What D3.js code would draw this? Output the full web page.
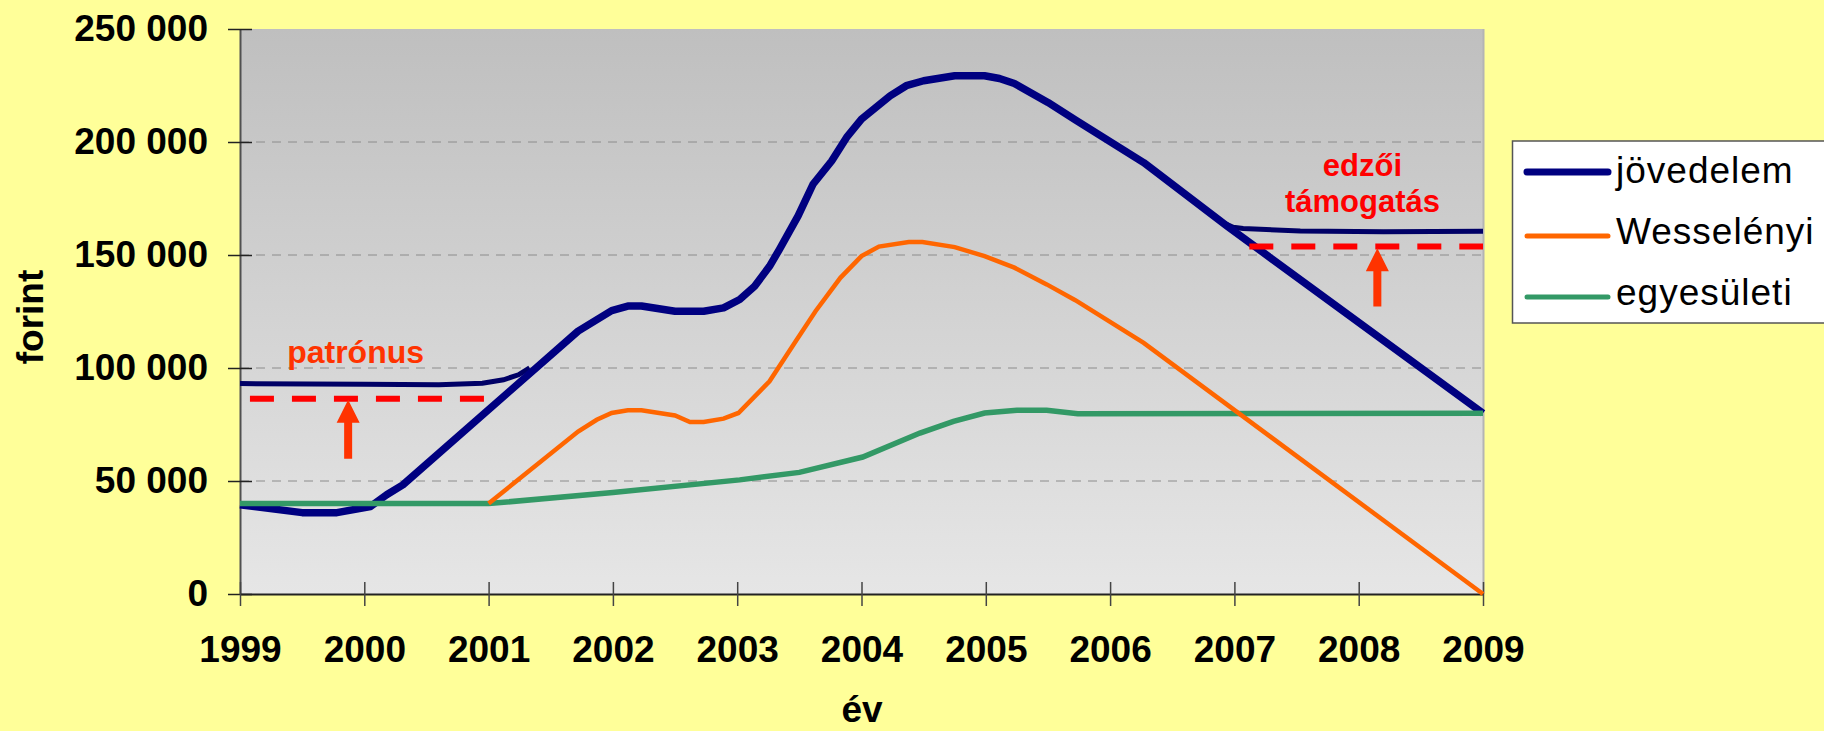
<!DOCTYPE html>
<html><head><meta charset="utf-8">
<script src="https://cdn.jsdelivr.net/npm/d3@7"></script>
<style>
html,body{margin:0;padding:0;background:#FFFF99;}
svg{display:block;font-family:"Liberation Sans",Arial,sans-serif;}
</style></head>
<body>
<svg id="c" width="1824" height="731"></svg>
<script>
// ---- data (years as fractional x, values in forint) ----
const xTicks = [1999,2000,2001,2002,2003,2004,2005,2006,2007,2008,2009];
const yTicks = [0,50000,100000,150000,200000,250000];
const yTickLabels = ["0","50 000","100 000","150 000","200 000","250 000"];
const seriesNames = ["jövedelem","Wesselényi","egyesületi"];

const jovedelemX = [1999,1999.5,1999.78,2000.05,2000.18,2000.31,2001.72,2001.99,2002.12,2002.23,2002.5,2002.73,2002.89,2003.02,2003.14,2003.26,2003.34,2003.49,2003.61,2003.76,2003.88,2004.0,2004.23,2004.36,2004.5,2004.75,2004.99,2005.11,2005.23,2005.5,2005.72,2006.27,2006.94,2009];
const jovedelemV = [39500,36000,36000,38700,43900,48300,116300,125400,127400,127400,125100,125100,126600,130300,136200,145000,152500,167300,181300,191600,202000,210100,220400,224900,227100,229300,229300,228100,225900,217500,209800,190900,162800,80000];

const patronusX = [1999,2000.0,2000.6,2000.95,2001.12,2001.24,2001.33];
const patronusV = [93100,92800,92600,93300,94800,97000,100000];

const edzoiX = [2006.91,2006.99,2007.07,2007.53,2008.2,2009];
const edzoiV = [164300,162300,161700,160600,160300,160500];

const wesselenyiX = [2001,2001.72,2001.87,2001.99,2002.12,2002.23,2002.5,2002.62,2002.73,2002.89,2003.01,2003.26,2003.48,2003.63,2003.83,2004.0,2004.14,2004.38,2004.49,2004.75,2004.99,2005.23,2005.49,2005.72,2006.27,2009];
const wesselenyiV = [40000,71900,77100,80100,81300,81300,79000,76100,76100,77600,80100,94100,112600,125100,139900,149500,153700,155700,155700,153500,149500,144400,137000,130000,111100,0];

const egyesuletiX = [1999,2001,2002.0,2003.02,2003.5,2004.01,2004.47,2004.74,2004.99,2005.25,2005.49,2005.74,2009];
const egyesuletiV = [40000,40000,44900,50500,53800,60600,71200,76400,80100,81300,81300,79800,80000];

// annotations
const dashLevels = [86400,153800];
const dashFrom = [1999.08,2007.12];
const dashTo = [2000.97,2009];
const arrowX = [1999.87,2008.15];
const arrowTip = [86000,153000];
const arrowBase = [59800,127200];
const noteTexts = [["patrónus"],["edzői","támogatás"]];
const noteX = [1999.93,2008.03];
const noteY = [102400,185000];
const noteColors = ["#FF3300","#FF0000"];

// ---- layout ----
const L=240,R=1483,T=29,B=594;
const svg=d3.select("#c");
const x=d3.scaleLinear().domain([1999,2009]).range([L,R]);
const y=d3.scaleLinear().domain([0,250000]).range([B,T]);

const defs=svg.append("defs");
const g=defs.append("linearGradient").attr("id","bg").attr("x1",0).attr("y1",0).attr("x2",0).attr("y2",1);
g.append("stop").attr("offset","0%").attr("stop-color","#BFBFBF");
g.append("stop").attr("offset","100%").attr("stop-color","#E6E6E6");

svg.append("rect").attr("x",L).attr("y",T).attr("width",R-L).attr("height",B-T).attr("fill","url(#bg)");

// gridlines
svg.append("g").selectAll("line").data(yTicks.filter(v=>v>0&&v<250000)).join("line")
  .attr("x1",L).attr("x2",R).attr("y1",d=>y(d)).attr("y2",d=>y(d))
  .attr("stroke","#8c8c8c").attr("stroke-width",1).attr("stroke-dasharray","9,7");

// right border
svg.append("line").attr("x1",R+0.5).attr("x2",R+0.5).attr("y1",T).attr("y2",B).attr("stroke","#b4b4b4").attr("stroke-width",2);

// axes
const yAxis=d3.axisLeft(y).tickValues(yTicks).tickFormat((d,i)=>yTickLabels[i]).tickSizeOuter(0).tickSizeInner(12).tickPadding(20);
const ya=svg.append("g").attr("transform",`translate(${L},0)`).call(yAxis);
ya.select(".domain").attr("stroke","#505050").attr("stroke-width",2);
ya.selectAll(".tick line").attr("x2",-12).attr("x1",12).attr("stroke","#222").attr("stroke-width",1.5);
ya.selectAll(".tick text").attr("font-size",37).attr("font-weight","bold").attr("fill","#000")
  .attr("font-family","'Liberation Sans',Arial,sans-serif").attr("x",-32);

const xAxis=d3.axisBottom(x).tickValues(xTicks).tickFormat(d3.format("d")).tickSizeOuter(0).tickSizeInner(12);
const xa=svg.append("g").attr("transform",`translate(0,${B})`).call(xAxis);
xa.select(".domain").attr("stroke","#222").attr("stroke-width",2);
xa.selectAll(".tick line").attr("y1",-12).attr("y2",12).attr("stroke","#444").attr("stroke-width",1.5);
xa.selectAll(".tick text").attr("font-size",37).attr("font-weight","bold").attr("fill","#000")
  .attr("font-family","'Liberation Sans',Arial,sans-serif").attr("y",68).attr("dy",0);

// axis titles
svg.append("text").attr("transform","translate(43,317) rotate(-90)").attr("text-anchor","middle")
  .attr("font-size",37).attr("font-weight","bold").text("forint");
svg.append("text").attr("x",862).attr("y",722).attr("text-anchor","middle")
  .attr("font-size",37).attr("font-weight","bold").text("év");

// lines
const line=d3.line().x(d=>x(d[0])).y(d=>y(d[1]));
const zip=(a,b)=>a.map((v,i)=>[v,b[i]]);
const lg=svg.append("g");
lg.append("path").attr("d",line(zip(patronusX,patronusV))).attr("fill","none").attr("stroke","#000066").attr("stroke-width",5);
lg.append("path").attr("d",line(zip(edzoiX,edzoiV))).attr("fill","none").attr("stroke","#000066").attr("stroke-width",5);
lg.append("path").attr("d",line(zip(jovedelemX,jovedelemV))).attr("fill","none").attr("stroke","#000080").attr("stroke-width",7.5).attr("stroke-linejoin","round");
lg.append("path").attr("d",line(zip(egyesuletiX,egyesuletiV))).attr("fill","none").attr("stroke","#339966").attr("stroke-width",5.5);
lg.append("path").attr("d",line(zip(wesselenyiX,wesselenyiV))).attr("fill","none").attr("stroke","#FF6600").attr("stroke-width",4.5);

// dashed red levels
svg.append("g").selectAll("line").data(dashLevels).join("line")
  .attr("x1",(d,i)=>x(dashFrom[i])).attr("x2",(d,i)=>x(dashTo[i]))
  .attr("y1",d=>y(d)).attr("y2",d=>y(d))
  .attr("stroke","#FF0000").attr("stroke-width",6).attr("stroke-dasharray","24,18");

// arrows
arrowX.forEach((ax,i)=>{
  const cx=x(ax), ty=y(arrowTip[i]), by=y(arrowBase[i]);
  const hl=23, hw=11.5, sw=4;
  svg.append("path").attr("fill","#FF3300")
    .attr("d",`M${cx},${ty} L${cx+hw},${ty+hl} L${cx+sw},${ty+hl} L${cx+sw},${by} L${cx-sw},${by} L${cx-sw},${ty+hl} L${cx-hw},${ty+hl} Z`);
});

// notes
noteTexts.forEach((lines,i)=>{
  const t=svg.append("text").attr("text-anchor","middle").attr("font-size",i===0?32:31).attr("font-weight","bold").attr("fill",noteColors[i]);
  lines.forEach((s,j)=>t.append("tspan").attr("x",x(noteX[i])).attr("y",y(noteY[i])+j*36).text(s));
});

// legend
const leg=svg.append("g");
leg.append("rect").attr("x",1512.5).attr("y",141).attr("width",340).attr("height",182).attr("fill","#fff").attr("stroke","#555").attr("stroke-width",1.5);
const legColors=["#000080","#FF6600","#339966"];
const legW=[7,5,5];
const legY=[172,236,297];
const legBase=[183,244,305];
seriesNames.forEach((n,i)=>{
  leg.append("line").attr("x1",1527).attr("x2",1608).attr("y1",legY[i]).attr("y2",legY[i])
    .attr("stroke",legColors[i]).attr("stroke-width",legW[i]).attr("stroke-linecap","round");
  leg.append("text").attr("x",1616).attr("y",legBase[i]).attr("font-size",37).attr("letter-spacing",1).attr("fill","#000").text(n);
});
</script>
</body></html>
